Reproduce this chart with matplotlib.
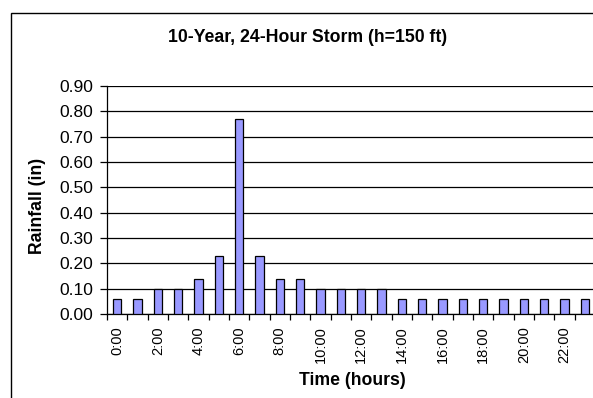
import matplotlib.pyplot as plt
from matplotlib.patches import Rectangle

plt.rcParams['font.family'] = ['Liberation Sans', 'DejaVu Sans']

# hourly rainfall for the design storm
hours = [f"{h}:00" for h in range(24)]
rainfall = [0.06, 0.06, 0.10, 0.10, 0.14, 0.23, 0.77, 0.23, 0.14, 0.14,
            0.10, 0.10, 0.10, 0.10, 0.06, 0.06, 0.06, 0.06, 0.06, 0.06,
            0.06, 0.06, 0.06, 0.06]
y_ticks = [0.0, 0.1, 0.2, 0.3, 0.4, 0.5, 0.6, 0.7, 0.8, 0.9]

W, H = 593, 398
fig = plt.figure(figsize=(W / 100, H / 100), dpi=100)

# chart frame (runs off the right and bottom edges)
frame_top = 1 - 12.5 / H
fig.patches.append(Rectangle((11 / W, -0.2), 1.2, frame_top + 0.2,
                             transform=fig.transFigure, fill=False,
                             edgecolor='black', linewidth=1.0))

left, right, top, bottom = 107, 595, 86, 314
ax = fig.add_axes([left / W, 1 - bottom / H, (right - left) / W, (bottom - top) / H])

x = [i + 0.5 for i in range(len(hours))]
ax.bar(x, rainfall, width=0.4, color='#9999FF', edgecolor='black',
       linewidth=0.9, zorder=3)

ax.set_xlim(0, len(hours))
ax.set_ylim(0, 0.9)

# y axis
ax.set_yticks(y_ticks)
ax.set_yticklabels([f"{v:.2f}" for v in y_ticks], fontsize=12.5)
ax.yaxis.grid(True, color='black', linewidth=0.9, zorder=0)
ax.tick_params(axis='y', direction='out', length=5, width=0.9, pad=5)

# x axis: tick marks between categories, labels on every other hour
ax.set_xticks(range(len(hours) + 1))
ax.set_xticklabels([])
ax.tick_params(axis='x', which='major', direction='out', length=4, width=0.9)
ax.set_xticks(x[::2], minor=True)
ax.set_xticklabels(hours[::2], minor=True, rotation=90, fontsize=10.5)
ax.tick_params(axis='x', which='minor', length=0, pad=9)

for side in ['top', 'right']:
    ax.spines[side].set_visible(False)
for side in ['left', 'bottom']:
    ax.spines[side].set_linewidth(0.9)
ax.set_axisbelow(True)

fig.text(308 / W, 1 - 42.5 / H, "10-Year, 24-Hour Storm (h=150 ft)",
         ha='center', va='baseline', fontsize=12.7, fontweight='bold')
fig.text(352 / W, 1 - 385 / H, "Time (hours)",
         ha='center', va='baseline', fontsize=12.7, fontweight='bold')
fig.text(37 / W, 1 - 206 / H, "Rainfall (in)", rotation=90,
         ha='center', va='center', fontsize=12.7, fontweight='bold')

fig.savefig("out.png", dpi=100)
